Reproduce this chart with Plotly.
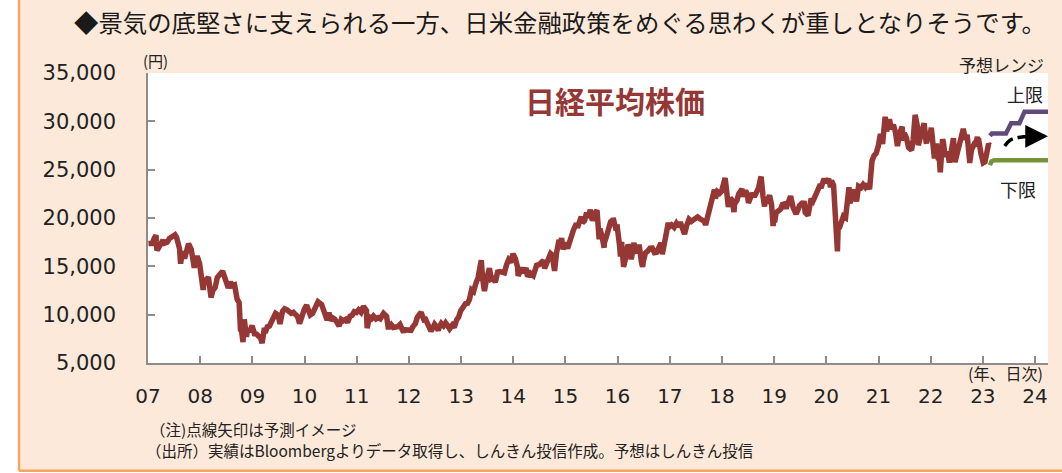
import plotly.graph_objects as go

# ---- data ----
dates = [
    "2007-01-04","2007-01-19","2007-01-31","2007-02-14","2007-02-26","2007-02-28","2007-03-05","2007-03-19","2007-03-30","2007-04-16","2007-04-27","2007-05-15","2007-05-31","2007-06-14","2007-06-29","2007-07-09","2007-07-20","2007-07-31","2007-08-10","2007-08-17","2007-08-31","2007-09-14","2007-09-28","2007-10-12","2007-10-31","2007-11-14","2007-11-21","2007-11-30","2007-12-11","2007-12-28",
    "2008-01-11","2008-01-22","2008-01-31","2008-02-15","2008-02-28","2008-03-10","2008-03-17","2008-03-31","2008-04-15","2008-04-30","2008-05-19","2008-05-30","2008-06-06","2008-06-20","2008-06-30","2008-07-16","2008-07-31","2008-08-15","2008-08-29","2008-09-16","2008-09-30","2008-10-10","2008-10-16","2008-10-27","2008-10-31","2008-11-05","2008-11-20","2008-11-28","2008-12-12","2008-12-26","2008-12-30",
    "2009-01-15","2009-01-30","2009-02-13","2009-02-27","2009-03-10","2009-03-26","2009-03-31","2009-04-15","2009-04-30","2009-05-15","2009-05-29","2009-06-12","2009-06-30","2009-07-13","2009-07-31","2009-08-14","2009-08-31","2009-09-15","2009-09-30","2009-10-15","2009-10-30","2009-11-13","2009-11-27","2009-12-15","2009-12-30",
    "2010-01-15","2010-01-29","2010-02-10","2010-02-26","2010-03-15","2010-03-31","2010-04-05","2010-04-30","2010-05-14","2010-05-27","2010-06-08","2010-06-21","2010-06-30","2010-07-15","2010-07-30","2010-08-16","2010-08-31","2010-09-15","2010-09-30","2010-10-15","2010-10-29","2010-11-15","2010-11-30","2010-12-15","2010-12-30",
    "2011-01-14","2011-01-31","2011-02-17","2011-02-28","2011-03-10","2011-03-15","2011-03-31","2011-04-15","2011-04-28","2011-05-16","2011-05-31","2011-06-15","2011-06-30","2011-07-08","2011-07-29","2011-08-09","2011-08-19","2011-08-31","2011-09-15","2011-09-30","2011-10-14","2011-10-31","2011-11-15","2011-11-25","2011-11-30","2011-12-15","2011-12-30",
    "2012-01-16","2012-01-31","2012-02-15","2012-02-29","2012-03-15","2012-03-27","2012-03-30","2012-04-16","2012-04-27","2012-05-15","2012-05-31","2012-06-04","2012-06-15","2012-06-29","2012-07-13","2012-07-25","2012-07-31","2012-08-15","2012-08-31","2012-09-14","2012-09-28","2012-10-12","2012-10-31","2012-11-14","2012-11-30","2012-12-14","2012-12-28",
    "2013-01-15","2013-01-31","2013-02-15","2013-02-28","2013-03-15","2013-03-29","2013-04-15","2013-04-30","2013-05-15","2013-05-22","2013-05-31","2013-06-13","2013-06-28","2013-07-18","2013-07-31","2013-08-15","2013-08-28","2013-09-13","2013-09-30","2013-10-15","2013-10-31","2013-11-15","2013-11-29","2013-12-13","2013-12-30",
    "2014-01-15","2014-01-31","2014-02-04","2014-02-14","2014-02-28","2014-03-14","2014-03-31","2014-04-11","2014-04-30","2014-05-21","2014-05-30","2014-06-13","2014-06-30","2014-07-15","2014-07-31","2014-08-08","2014-08-29","2014-09-19","2014-09-30","2014-10-17","2014-10-31","2014-11-14","2014-11-28","2014-12-05","2014-12-16","2014-12-30",
    "2015-01-16","2015-01-30","2015-02-13","2015-02-27","2015-03-13","2015-03-31","2015-04-22","2015-04-30","2015-05-15","2015-05-29","2015-06-10","2015-06-24","2015-06-30","2015-07-09","2015-07-31","2015-08-10","2015-08-25","2015-08-31","2015-09-15","2015-09-29","2015-09-30","2015-10-15","2015-10-30","2015-11-13","2015-11-30","2015-12-01","2015-12-18","2015-12-30",
    "2016-01-15","2016-01-21","2016-01-29","2016-02-12","2016-02-29","2016-03-14","2016-03-31","2016-04-06","2016-04-25","2016-04-28","2016-05-13","2016-05-31","2016-06-16","2016-06-24","2016-06-30","2016-07-14","2016-07-29","2016-08-15","2016-08-31","2016-09-15","2016-09-30","2016-10-14","2016-10-31","2016-11-09","2016-11-30","2016-12-21","2016-12-30",
    "2017-01-13","2017-01-31","2017-02-15","2017-02-28","2017-03-15","2017-03-31","2017-04-14","2017-04-28","2017-05-15","2017-05-31","2017-06-15","2017-06-30","2017-07-14","2017-07-31","2017-08-15","2017-08-31","2017-09-08","2017-09-29","2017-10-16","2017-10-31","2017-11-09","2017-11-15","2017-11-30","2017-12-15","2017-12-29",
    "2018-01-15","2018-01-23","2018-01-31","2018-02-14","2018-02-28","2018-03-15","2018-03-26","2018-03-30","2018-04-16","2018-04-27","2018-05-21","2018-05-31","2018-06-15","2018-06-29","2018-07-05","2018-07-31","2018-08-15","2018-08-31","2018-09-14","2018-09-28","2018-10-02","2018-10-15","2018-10-26","2018-10-31","2018-11-15","2018-11-30","2018-12-14","2018-12-25","2018-12-28",
    "2019-01-04","2019-01-15","2019-01-31","2019-02-15","2019-02-28","2019-03-15","2019-03-25","2019-03-29","2019-04-15","2019-04-26","2019-05-14","2019-05-31","2019-06-04","2019-06-28","2019-07-16","2019-07-31","2019-08-06","2019-08-26","2019-08-30","2019-09-17","2019-09-30","2019-10-15","2019-10-31","2019-11-15","2019-11-29","2019-12-17","2019-12-30",
    "2020-01-17","2020-01-31","2020-02-06","2020-02-21","2020-02-28","2020-03-09","2020-03-19","2020-03-25","2020-03-31","2020-04-15","2020-04-30","2020-05-15","2020-05-29","2020-06-08","2020-06-15","2020-06-30","2020-07-15","2020-07-31","2020-08-14","2020-08-31","2020-09-15","2020-09-30","2020-10-15","2020-10-30","2020-11-16","2020-11-30","2020-12-15","2020-12-30",
    "2021-01-14","2021-01-29","2021-02-16","2021-02-26","2021-03-18","2021-03-31","2021-04-15","2021-04-30","2021-05-13","2021-05-31","2021-06-15","2021-06-21","2021-06-30","2021-07-15","2021-07-30","2021-08-20","2021-08-31","2021-09-14","2021-09-30","2021-10-06","2021-10-29","2021-11-16","2021-11-30","2021-12-02","2021-12-15","2021-12-30",
    "2022-01-05","2022-01-27","2022-01-31","2022-02-10","2022-02-24","2022-02-28","2022-03-09","2022-03-25","2022-03-31","2022-04-12","2022-04-28","2022-05-12","2022-05-31","2022-06-09","2022-06-20","2022-06-30","2022-07-15","2022-07-29","2022-08-17","2022-08-31","2022-09-13","2022-09-30","2022-10-03","2022-10-14","2022-10-31","2022-11-10","2022-11-24","2022-11-30","2022-12-01","2022-12-20","2022-12-30",
    "2023-01-04","2023-01-16","2023-01-31","2023-02-10","2023-02-17",
]
nikkei = [
    17353,17400,17383,17900,18215,17604,16642,17000,17288,17700,17400,17500,17876,18000,18138,18262,18000,17248,16800,15273,16569,15800,16785,17350,16737,15800,14837,15680,16044,15307,
    13900,12573,13592,13600,13900,12500,11787,12525,12800,13849,14270,14338,14489,13900,13481,12760,13376,13000,13072,11600,11259,8276,8458,7162,8576,9521,7703,8512,8235,8739,8859,
    8023,7994,7779,7568,7054,8636,8109,8742,8828,9265,9522,10135,9958,9050,10356,10597,10492,10217,10133,10238,10034,9804,9081,10083,10546,
    10982,10198,9963,10126,10751,11089,11339,11057,10462,9639,9439,10238,9382,9685,9537,9196,8824,9516,9369,9500,9202,9827,9937,10309,10228,
    10499,10237,10857,10624,10434,8605,9755,9591,9849,9558,9693,9574,9816,10137,9833,8719,8719,8955,8668,8700,8747,8988,8603,8160,8434,8377,8455,
    8378,8802,9052,9723,10123,10255,10083,9470,9520,8900,8542,8295,8569,9007,8724,8365,8695,9089,8839,9159,8870,8534,8928,8664,9446,9737,10395,
    10879,11138,11173,11559,12560,12397,13275,13860,15096,15627,13774,12445,13677,14808,13668,13752,13338,14404,14455,14441,14327,15165,15662,15403,16291,
    15808,14914,14008,14313,14841,14327,14828,13960,14304,14042,14632,15097,15162,15395,15621,14778,15425,16321,16174,14532,16414,17490,17460,17920,16755,17451,
    16864,17674,17913,18798,19254,19207,20133,19520,19732,20563,20046,20868,20236,19737,20585,20808,17806,18890,18026,16930,17388,18097,19083,19597,19747,20012,18986,19034,
    17147,16017,17518,14952,16027,17233,16759,15715,17439,16666,16412,17235,15434,14952,15576,16386,16569,16870,16887,16405,16450,16856,17425,16251,18308,19494,19114,
    19287,19041,19437,19119,19577,18909,18335,19197,19869,19651,19831,20033,20118,19925,19753,19646,19275,20356,21255,22012,22937,22028,22725,22553,22765,
    23714,24124,23098,21154,22068,21803,20617,21454,21835,22468,23002,22202,22851,22305,21547,22554,22204,22865,23095,24120,24270,22271,21184,21920,21804,22351,21375,19155,20015,
    19561,20555,20773,20900,21385,21451,20977,21206,22169,22259,21067,20601,20408,21276,21535,21522,20585,20261,20704,22001,21756,22208,22927,23303,23294,24066,23657,
    24041,23205,23873,23386,21143,19698,16552,19546,18917,19550,20194,20037,21878,23178,21530,22288,22945,21710,23289,23140,23454,23185,23507,22977,25907,26434,26687,27444,
    28698,27663,30467,28966,30216,29179,29642,28813,27448,28860,29441,28010,28792,28279,27284,27013,28090,30670,29453,27528,28893,29808,27822,27753,28459,28792,
    29332,26170,27002,27696,25970,26527,24717,28149,27821,26335,26848,25748,27280,28246,25771,26393,26788,27802,29222,28092,28614,25937,25937,27090,27587,27446,28383,27969,28226,26568,26095,
    25717,25822,27327,27671,27513,
]

upper_dates = ["2023-02-20", "2023-03-05", "2023-06-12", "2023-07-18", "2023-09-14", "2023-10-20", "2024-04-01"]
upper_vals = [28500, 28750, 28750, 29800, 29800, 31000, 31000]
lower_dates = ["2023-02-20", "2023-03-02", "2023-03-20", "2024-04-01"]
lower_vals = [25450, 25850, 25980, 25980]
arrow_dates = ["2023-06-03", "2023-07-10", "2023-09-20", "2024-03-20"]
arrow_vals = [27450, 28050, 28350, 28450]

year_ticks = [f"{y}-01-01" for y in range(2007, 2025)]
year_labels = [f"{y % 100:02d}" for y in range(2007, 2025)]
y_ticks = [5000, 10000, 15000, 20000, 25000, 30000, 35000]

RED = "#953735"
PURPLE = "#604A7B"
GREEN = "#77933C"
PEACH = "#FDE9D9"
ORANGE = "#F7A460"
AXIS = "#8C8C8C"
JP = "Noto Sans CJK JP"

fig = go.Figure()
fig.add_trace(go.Scatter(x=dates, y=nikkei, mode="lines",
                         line=dict(color=RED, width=5.5), hoverinfo="skip"))
fig.add_trace(go.Scatter(x=upper_dates, y=upper_vals, mode="lines",
                         line=dict(color=PURPLE, width=4.5), hoverinfo="skip"))
fig.add_trace(go.Scatter(x=lower_dates, y=lower_vals, mode="lines",
                         line=dict(color=GREEN, width=4.5), hoverinfo="skip"))
fig.add_trace(go.Scatter(x=arrow_dates, y=arrow_vals, mode="lines",
                         line=dict(color="black", width=3.5, dash="11px,5px", shape="spline"),
                         hoverinfo="skip"))

annotations = [
    # arrow head
    dict(x="2024-04-01", y=arrow_vals[-1], xref="x", yref="y", text="", showarrow=True,
         ax=-16, ay=0, arrowhead=2, arrowsize=1.3, arrowwidth=3.5, arrowcolor="black"),
    dict(text="◆景気の底堅さに支えられる一方、日米金融政策をめぐる思わくが重しとなりそうです。",
         x=0.4578, y=1.176, xref="paper", yref="paper", xanchor="center", yanchor="middle",
         showarrow=False, font=dict(family=JP, size=24.4, color="#1a1a1a")),
    dict(text="日経平均株価", x=0.519, y=0.906, xref="paper", yref="paper",
         xanchor="center", yanchor="middle", showarrow=False,
         font=dict(family=JP, size=30, color=RED, weight="bold")),
    dict(text="(円)", x=0.0078, y=1.0448, xref="paper", yref="paper",
         xanchor="center", yanchor="middle", showarrow=False,
         font=dict(family=JP, size=15, color="#222")),
    dict(text="予想レンジ", x=0.998, y=1.0276, xref="paper", yref="paper",
         xanchor="right", yanchor="middle", showarrow=False,
         font=dict(family=JP, size=17, color="#222")),
    dict(text="上限", x=0.997, y=0.928, xref="paper", yref="paper",
         xanchor="right", yanchor="middle", showarrow=False,
         font=dict(family=JP, size=18, color="#222")),
    dict(text="下限", x=0.967, y=0.600, xref="paper", yref="paper",
         xanchor="center", yanchor="middle", showarrow=False,
         font=dict(family=JP, size=18, color="#222")),
    dict(text="(年、日次)", x=0.997, y=-0.0345, xref="paper", yref="paper",
         xanchor="right", yanchor="middle", showarrow=False,
         font=dict(family=JP, size=16, color="#222")),
    dict(text="（注)点線矢印は予測イメージ", x=0.0, y=-0.2259, xref="paper", yref="paper",
         xanchor="left", yanchor="middle", showarrow=False,
         font=dict(family=JP, size=15.5, color="#222")),
    dict(text="（出所）実績はBloombergよりデータ取得し、しんきん投信作成。予想はしんきん投信",
         x=-0.005, y=-0.3, xref="paper", yref="paper",
         xanchor="left", yanchor="middle", showarrow=False,
         font=dict(family=JP, size=15.5, color="#222")),
]

shapes = [
    dict(type="rect", xref="paper", yref="paper", x0=-0.3, x1=-0.1433, y0=-1, y1=2,
         fillcolor="white", line=dict(width=0), layer="below"),
    dict(type="rect", xref="paper", yref="paper", x0=-0.3, x1=1.2, y0=-1, y1=-0.3714,
         fillcolor="white", line=dict(width=0), layer="below"),
    dict(type="line", xref="paper", yref="paper", x0=-0.1433, x1=-0.1433, y0=-0.3714, y1=2,
         line=dict(color=ORANGE, width=2.5)),
    dict(type="line", xref="paper", yref="paper", x0=-0.1433, x1=1.2, y0=-0.3714, y1=-0.3714,
         line=dict(color=ORANGE, width=2.5)),
]

fig.update_layout(
    width=1062, height=473,
    margin=dict(l=148, r=14, t=73, b=110),
    paper_bgcolor=PEACH, plot_bgcolor="white",
    showlegend=False,
    annotations=annotations, shapes=shapes,
    xaxis=dict(type="date", range=["2007-01-01", "2024-04-01"],
               tickvals=year_ticks, ticktext=year_labels,
               showgrid=False, zeroline=False, showline=True, linecolor=AXIS, linewidth=1.5,
               ticks="inside", ticklen=7, tickwidth=1.5, tickcolor=AXIS,
               tickfont=dict(family="DejaVu Sans", size=20, color="#222"),
               ticklabelstandoff=14),
    yaxis=dict(range=[5000, 35000], tickvals=y_ticks, tickformat=",d",
               showgrid=False, zeroline=False, showline=True, linecolor=AXIS, linewidth=1.5,
               ticks="inside", ticklen=7, tickwidth=1.5, tickcolor=AXIS,
               tickfont=dict(family="DejaVu Sans", size=21, color="#222"),
               ticklabelstandoff=26),
)

fig.write_html("out.html", config={"displayModeBar": False},
               post_script="document.body.style.margin='0';document.body.style.overflow='hidden';")
